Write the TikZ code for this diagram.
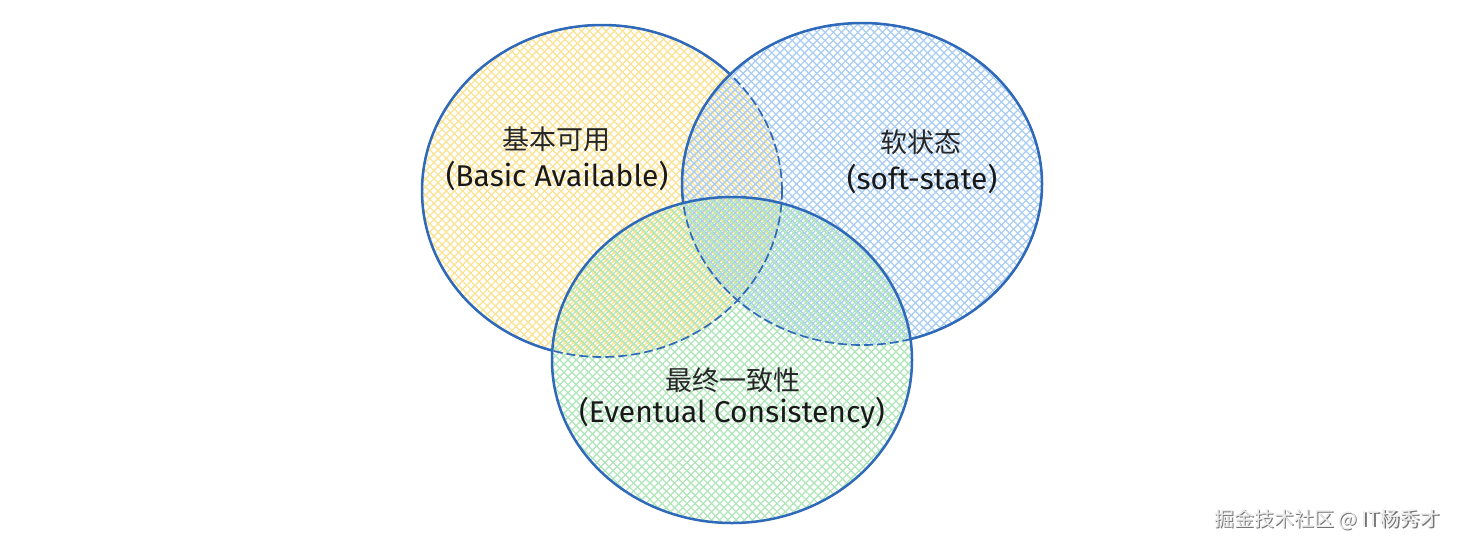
\documentclass[tikz,border=0pt]{standalone}
\usepackage{fontspec}
\newfontfamily\cjk{Noto Sans CJK SC}
\newfontfamily\hand{Fira Sans}
\definecolor{strokeblue}{RGB}{47,105,185}
\definecolor{hy}{RGB}{251,226,145}
\definecolor{hb}{RGB}{168,204,244}
\definecolor{hg}{RGB}{174,230,184}
\tikzset{
  hatchline/.style={line width=1.2pt},
  outline/.style={draw=strokeblue, line width=2.5pt},
  hidden/.style={draw=strokeblue, line width=1.7pt, dash pattern=on 9pt off 4pt},
  zh/.style={font=\cjk\fontsize{27}{30}\selectfont, text=black!85, inner sep=0pt},
  en/.style={font=\hand\fontsize{30}{33}\selectfont, text=black!90, inner sep=0pt},
}
\newcommand{\hatchfill}[5]{%
  \begin{scope}
    \clip (#1,#2) ellipse (#3pt and #4pt);
    \foreach \k in {-45,...,45} {
      \draw[hatchline, #5] ({#1+\k*8.2-400},{#2-400}) -- ({#1+\k*8.2+400},{#2+400});
      \draw[hatchline, #5] ({#1+\k*8.2-400},{#2+400}) -- ({#1+\k*8.2+400},{#2-400});
    }
  \end{scope}}
\begin{document}
\begin{tikzpicture}[x=1pt,y=-1pt]
\useasboundingbox[fill=white] (0,0) rectangle (1458,550);
% centres
\coordinate (cy) at (602,191);
\coordinate (cb) at (862,184);
\coordinate (cg) at (732,360);
% hatched fills
\hatchfill{602}{191}{180}{166}{hy}
\hatchfill{862}{184}{180}{161}{hb}
\hatchfill{732}{360}{180}{163}{hg}
% yellow outline
\draw[hidden] (cy) ellipse (180pt and 166pt);
\begin{scope}[even odd rule]
  \clip (0,0) rectangle (1458,550) (cb) ellipse (180pt and 161pt);
  \clip (0,0) rectangle (1458,550) (cg) ellipse (180pt and 163pt);
  \draw[outline] (cy) ellipse (180pt and 166pt);
\end{scope}
% blue outline
\draw[hidden] (cb) ellipse (180pt and 161pt);
\begin{scope}[even odd rule]
  \clip (0,0) rectangle (1458,550) (cg) ellipse (180pt and 163pt);
  \draw[outline] (cb) ellipse (180pt and 161pt);
\end{scope}
% green outline
\draw[outline] (cg) ellipse (180pt and 163pt);
% labels
\node[zh] (ba) at (556,139) {基本可用};
\node[en] (bae) at (557,176) {(Basic Available)};
\node[zh] (ss) at (921,142) {软状态};
\node[en] (sse) at (922,179) {(soft-state)};
\node[zh] (ec) at (733,380) {最终一致性};
\node[en] (ece) at (732,413) {(Eventual Consistency)};
% watermark
\node[font=\cjk\fontsize{20}{24}\selectfont, text=black!55, anchor=east, inner sep=0pt] (wms) at (1441.2,521.2) {掘金技术社区 @ IT杨秀才};
\node[font=\cjk\fontsize{20}{24}\selectfont, text=white!92!black, anchor=east, inner sep=0pt] (wm) at (1440,520) {掘金技术社区 @ IT杨秀才};
\end{tikzpicture}
\end{document}
